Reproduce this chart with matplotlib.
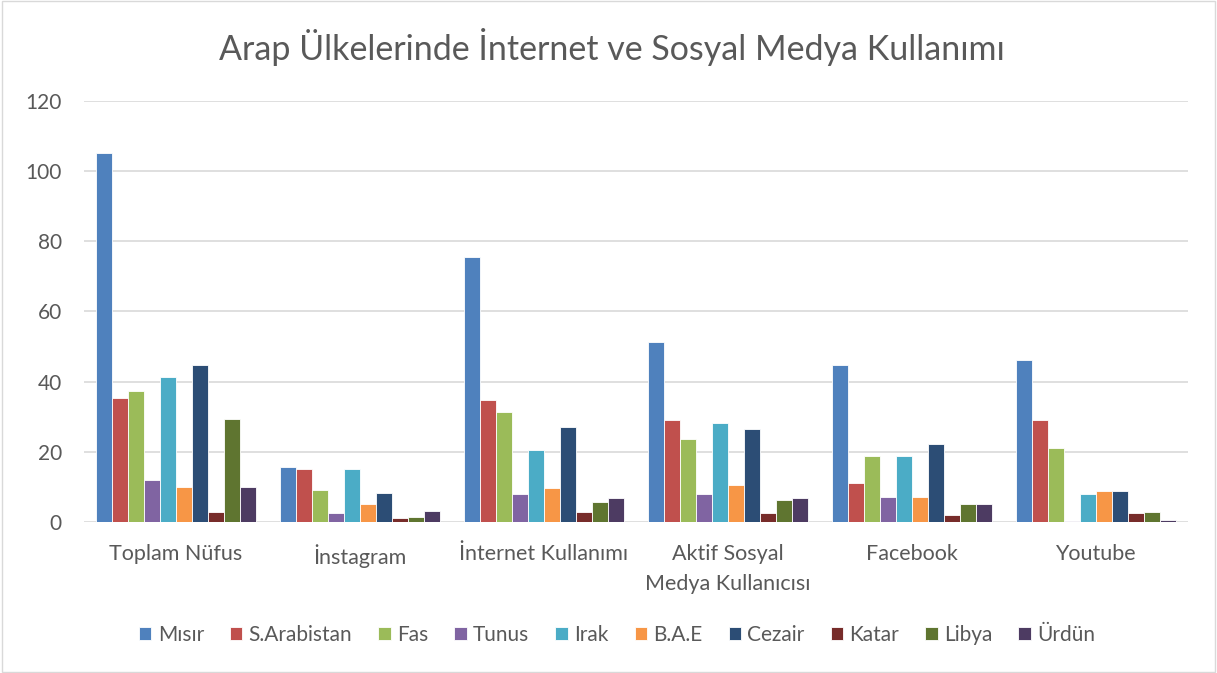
import matplotlib
matplotlib.use("Agg")
import matplotlib.pyplot as plt
import numpy as np
from matplotlib.patches import Rectangle

categories = ["Toplam Nüfus", "İnstagram", "İnternet Kullanımı",
              "Aktif Sosyal\nMedya Kullanıcısı", "Facebook", "Youtube"]
countries = ["Mısır", "S.Arabistan", "Fas", "Tunus", "Irak", "B.A.E",
             "Cezair", "Katar", "Libya", "Ürdün"]
colors = ["#4F81BD", "#C0504D", "#9BBB59", "#8064A2", "#4BACC6",
          "#F79646", "#2C4D75", "#772C2A", "#5F7530", "#4D3B62"]

misir = [105.1, 15.7, 75.5, 51.2, 44.6, 46.1]
s_arabistan = [35.3, 15.2, 34.7, 29.1, 11.2, 29.1]
fas = [37.4, 9.0, 31.4, 23.6, 18.7, 21.2]
tunus = [12.0, 2.6, 7.9, 7.9, 7.0, 0.3]
irak = [41.4, 15.2, 20.4, 28.1, 18.7, 7.9]
bae = [9.9, 5.0, 9.8, 10.5, 7.0, 8.8]
cezair = [44.8, 8.4, 27.2, 26.4, 22.2, 8.8]
katar = [2.9, 1.0, 2.8, 2.7, 1.9, 2.5]
libya = [29.3, 1.5, 5.8, 6.2, 5.2, 2.8]
urdun = [10.1, 3.0, 6.8, 6.7, 5.0, 0.7]
series = [misir, s_arabistan, fas, tunus, irak, bae, cezair, katar, libya, urdun]

yticks = [0, 20, 40, 60, 80, 100, 120]
title = "Arap Ülkelerinde İnternet ve Sosyal Medya Kullanımı"

plt.rcParams['font.family'] = ['Lato', 'DejaVu Sans']
textc = "#595959"

fig = plt.figure(figsize=(12.17, 6.73), dpi=100)
fig.patch.set_facecolor("white")
fig.add_artist(Rectangle((0.0015, 0.002), 0.997, 0.996, transform=fig.transFigure,
                         fill=False, edgecolor="#d9d9d9", linewidth=1.0))

ax = fig.add_axes([0.069, 0.2244, 0.907, 0.6256])
x = np.arange(len(categories))
n = len(series)
step = 0.087
for i, (vals, c, name) in enumerate(zip(series, colors, countries)):
    off = (i - (n - 1) / 2) * step
    ax.bar(x + off, vals, width=step, color=c, edgecolor="white",
           linewidth=0.6, label=name, zorder=3)

ax.set_xlim(-0.5, len(categories) - 0.5)
ax.set_ylim(0, 120)
ax.set_yticks(yticks)
ax.set_yticklabels([str(v) for v in yticks], fontsize=15, color=textc)
ax.set_xticks(x)
ax.set_xticklabels(categories, fontsize=15.5, color=textc, linespacing=1.6)
ax.tick_params(axis='both', length=0)
ax.tick_params(axis='x', pad=16)
ax.tick_params(axis='y', pad=16)
ax.grid(axis='y', color="#d9d9d9", linewidth=1.2, zorder=0)
for s in ax.spines.values():
    s.set_visible(False)
ax.set_facecolor("none")

fig.text(0.503, 0.93, title, ha='center', va='center', fontsize=24.5,
         color=textc, fontweight='normal')

leg = fig.legend(loc='center', bbox_to_anchor=(0.507, 0.057), ncol=10,
                 frameon=False, fontsize=15, handlelength=0.6,
                 handleheight=0.6, handletextpad=0.3, columnspacing=1.25)
for t in leg.get_texts():
    t.set_color(textc)

fig.savefig("out.png", dpi=100, facecolor="white")
